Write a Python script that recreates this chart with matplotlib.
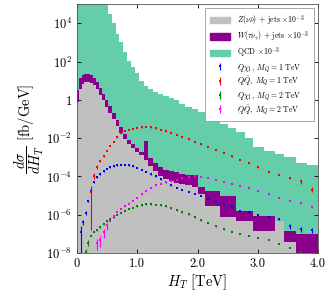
import numpy as np
import matplotlib

matplotlib.use('Agg')
from matplotlib import pyplot as plt
from matplotlib.patches import Patch

plt.rcParams['font.family'] = 'serif'
plt.rcParams['font.serif'] = ['cmr10']
plt.rcParams['mathtext.fontset'] = 'cm'
plt.rcParams['axes.formatter.use_mathtext'] = True

# bin edges in TeV
ht_edges = [0, 0.04, 0.08, 0.12, 0.17, 0.21, 0.26, 0.31, 0.36, 0.41, 0.47,
            0.52, 0.58, 0.64, 0.70, 0.76, 0.83, 0.89, 0.96, 1.03, 1.11,
            1.18, 1.26, 1.35, 1.43, 1.52, 1.61, 1.70, 1.80, 1.90, 2.00,
            2.12, 2.24, 2.37, 2.50, 2.64, 2.78, 2.92, 3.10, 3.28, 3.43,
            3.63, 3.81, 4.00]

# log10 of dsigma/dHT [fb/GeV], one value per bin
z_log = [-0.1, 0.55, 0.85, 0.93, 0.94, 0.9, 0.78, 0.55, 0.28, -0.02,
         -0.35, -0.66, -1.0, -1.38, -1.72, -2.02, -2.28, -2.5, -2.7, -2.88,
         -3.15, -3.45, -3.7, -3.95, -4.15, -4.25, -4.32, -4.4, -4.45, -4.55,
         -4.94, -5.56, -5.56, -6.13, -6.13, -6.34, -6.34, -6.86, -6.86, -6.34,
         -7.43, -20, -20]
w_log = [0.5, 1.15, 1.3, 1.35, 1.35, 1.28, 1.15, 0.92, 0.62, 0.3,
         -0.02, -0.34, -0.68, -1.05, -1.4, -1.78, -2.08, -2.3, -2.5, -2.7,
         -2.15, -3.05, -3.3, -3.5, -3.64, -3.7, -3.78, -3.85, -3.9, -3.9,
         -4.57, -4.78, -4.78, -5.04, -5.04, -5.82, -5.82, -6.08, -6.08, -6.6,
         -6.86, -7.0, -7.0]
qcd_log = [6, 6, 6, 6, 6, 6, 6, 6, 6, 6,
           6, 4.5, 4.0, 3.45, 3.0, 2.5, 2.05, 1.7, 1.38, 1.0,
           0.75, 0.55, 0.4, 0.3, 0.2, 0.1, 0.0, -0.2, -0.35, -0.5,
           -0.65, -0.85, -1.05, -1.25, -1.45, -1.7, -2.0, -2.45, -2.65, -2.8,
           -3.0, -3.27, -3.4]

nan = np.nan
qx1_log = [nan, -6.9, -6.4, -5.9, -5.3, -4.75, -4.3, -4.05, -3.88, -3.72,
           -3.6, -3.52, -3.46, -3.41, -3.38, -3.38, -3.42, -3.47, -3.55, -3.65,
           -3.76, -3.88, -4.0, -4.15, -4.3, -4.45, -4.58, -4.68, -4.8, -4.9,
           -5.02, -5.15, -5.3, -5.45, -5.6, -5.78, -5.87, -6.0, -6.13, -6.23,
           -6.6, -6.75, -6.8]
qq1_log = [nan, nan, nan, nan, nan, -4.8, -3.95, -3.5, -3.2, -2.95,
           -2.65, -2.4, -2.2, -1.95, -1.75, -1.62, -1.55, -1.5, -1.45, -1.42,
           -1.4, -1.42, -1.48, -1.56, -1.64, -1.72, -1.82, -1.92, -2.05, -2.18,
           -2.32, -2.46, -2.62, -2.76, -2.95, -3.12, -3.32, -3.53, -3.74, -3.9,
           -4.1, -4.26, -4.68]
qx2_log = [nan, nan, nan, -7.95, -7.45, -7.1, -6.9, -6.8, -6.65, -6.5,
           -6.35, -6.22, -6.12, -6.0, -5.9, -5.8, -5.7, -5.62, -5.56, -5.5,
           -5.46, -5.45, -5.48, -5.5, -5.56, -5.66, -5.77, -5.87, -5.98, -6.12,
           -6.28, -6.42, -6.6, -6.75, -6.9, -7.0, -7.1, -7.2, -7.3, -7.5,
           -7.72, -7.93, -8.1]
qq2_log = [nan, nan, nan, nan, nan, nan, nan, -7.45, -7.3, -6.9,
           -6.55, -6.3, -6.05, -5.85, -5.7, -5.55, -5.42, -5.28, -5.1, -4.92,
           -4.78, -4.6, -4.47, -4.38, -4.3, -4.24, -4.18, -4.1, -4.04, -4.0,
           -4.02, -4.08, -4.18, -4.28, -4.38, -4.48, -4.62, -4.76, -4.92, -5.1,
           -5.28, -5.4, -5.6]

# relative statistical errors, small unless the picture shows a visible bar
qx1_rel = np.full(len(qx1_log), 0.05)
qx1_rel[[1, 2, 3]] = [0.99, 0.3, 0.2]
qx1_rel[[40, 41, 42]] = [0.3, 0.3, 0.3]
qq1_rel = np.full(len(qq1_log), 0.05)
qq1_rel[[5, 6, 7]] = [0.99, 0.35, 0.2]
qq1_rel[[41, 42]] = [0.25, 0.3]
qx2_rel = np.full(len(qx2_log), 0.05)
qx2_rel[[3, 4]] = [0.4, 0.3]
qq2_rel = np.full(len(qq2_log), 0.05)
qq2_rel[[7, 8, 9, 10]] = [0.6, 0.6, 0.5, 0.4]

edges = np.array(ht_edges)
centres = 0.5 * (edges[1:] + edges[:-1])

fig = plt.figure(figsize=(3.32, 2.96), dpi=100)
ax = fig.add_axes([0.232, 0.145, 0.726, 0.841])

base = 1e-12
ax.stairs(10.0 ** np.array(qcd_log), edges, fill=True, baseline=base,
          color='#66cdaa', lw=0)
ax.stairs(10.0 ** np.array(w_log), edges, fill=True, baseline=base,
          color='#8b008b', lw=0)
ax.stairs(10.0 ** np.array(z_log), edges, fill=True, baseline=base,
          color='#c0c0c0', lw=0)

signals = [
    (qx1_log, qx1_rel, 'blue', r'$Q\chi_1,\ M_Q=1$ TeV'),
    (qq1_log, qq1_rel, 'red', r'$Q\bar{Q},\ M_Q=1$ TeV'),
    (qx2_log, qx2_rel, 'green', r'$Q\chi_1,\ M_Q=2$ TeV'),
    (qq2_log, qq2_rel, 'magenta', r'$Q\bar{Q},\ M_Q=2$ TeV'),
]
sig_handles = []
for vals_log, rel, col, lab in signals:
    vals = 10.0 ** np.array(vals_log)
    h = ax.errorbar(centres, vals, yerr=vals * rel, fmt='s', ms=1.6,
                    mew=0, color=col, ecolor=col, elinewidth=0.8,
                    capsize=0, label=lab)
    sig_handles.append(h)

ax.set_yscale('log')
ax.set_xlim(0, 4)
ax.set_ylim(1e-8, 1e5)

ax.set_yticks([1e-8, 1e-6, 1e-4, 1e-2, 1, 1e2, 1e4])
ax.set_yticklabels([r'$10^{-8}$', r'$10^{-6}$', r'$10^{-4}$', r'$10^{-2}$',
                    r'$1$', r'$10^{2}$', r'$10^{4}$'])
ax.yaxis.set_minor_locator(matplotlib.ticker.NullLocator())
ax.set_xticks([0, 1, 2, 3, 4])
ax.set_xticklabels(['0', '1.0', '2.0', '3.0', '4.0'])
ax.tick_params(direction='in', top=True, right=True, labelsize=9,
               length=3, width=0.6)
for sp in ax.spines.values():
    sp.set_linewidth(0.6)
    sp.set_color('#555555')

ax.set_xlabel(r'$H_T$ [TeV]', fontsize=10.5, labelpad=2)
ax.set_ylabel(r'$\dfrac{d\sigma}{dH_T}$ [fb/GeV]', fontsize=10.5,
              labelpad=0)

bkg_handles = [
    Patch(color='#c0c0c0', label=r'$Z(\nu\bar{\nu})$ + jets $\times10^{-3}$'),
    Patch(color='#8b008b', label=r'$W(\tau\nu_\tau)$ + jets $\times10^{-3}$'),
    Patch(color='#66cdaa', label=r'QCD $\times10^{-3}$'),
]
leg = ax.legend(handles=bkg_handles + sig_handles, loc='upper right',
                fontsize=5.6, frameon=True, fancybox=False, framealpha=1,
                edgecolor='#999999', handlelength=2.6, handleheight=0.9,
                handletextpad=0.9, borderpad=0.6, labelspacing=0.2,
                borderaxespad=0, bbox_to_anchor=(0.983, 0.984))
leg.get_frame().set_linewidth(0.6)

fig.savefig('out.png', dpi=100)
